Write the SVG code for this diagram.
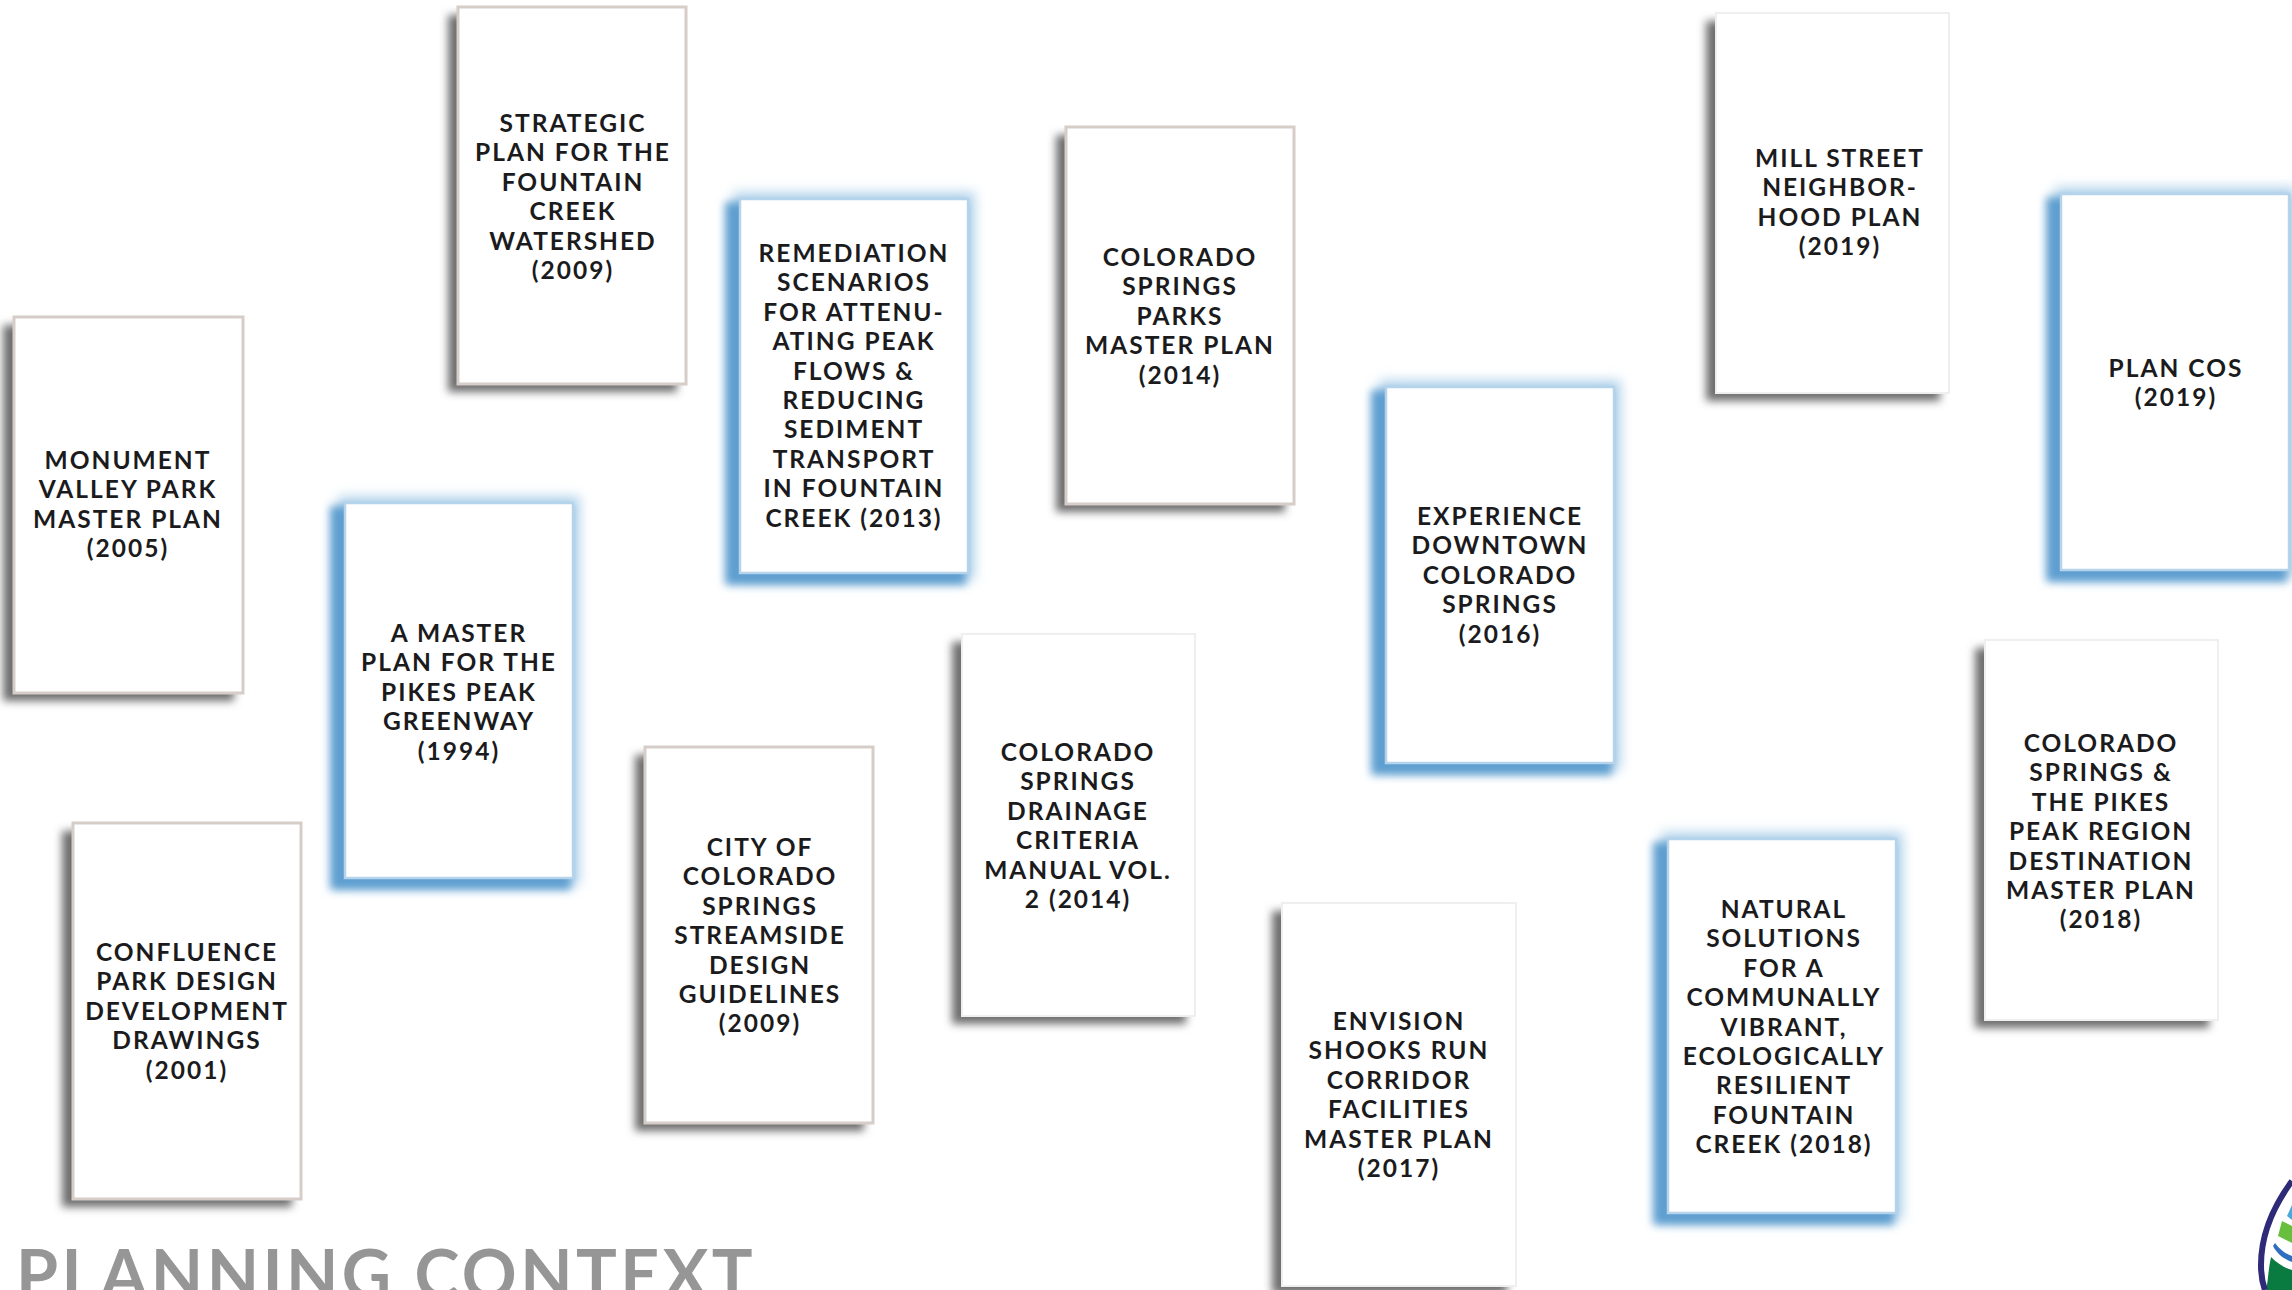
<svg xmlns="http://www.w3.org/2000/svg" width="2292" height="1290" viewBox="0 0 2292 1290">
<style>
text{font-family:Lato,"Open Sans","Liberation Sans",sans-serif}
.t{font-size:24.5px;font-weight:700;letter-spacing:2px;fill:#1b1b1d;text-anchor:middle}
.card{fill:#fff}
.n{stroke:#d6cdc8;stroke-width:3}
.f{stroke:#efefef;stroke-width:2}
.b{stroke:#b5d3ea;stroke-width:2.5}
.sn{fill:#6e6e6e;filter:url(#s)}
.sb{fill:#5f9fd0;filter:url(#s)}
.gb{fill:none;stroke:#b7d6ec;stroke-width:14;filter:url(#g)}
.title{font-size:68px;font-weight:700;letter-spacing:3.4px;fill:#969696}
</style>
<defs>
<filter id="s" x="-20%" y="-20%" width="140%" height="140%"><feGaussianBlur stdDeviation="4.5"/></filter>
<filter id="g" x="-20%" y="-20%" width="140%" height="140%"><feGaussianBlur stdDeviation="6"/></filter>
<clipPath id="drop"><path d="M2300 1180C2275 1215 2260 1245 2260 1270C2260 1280 2261 1285 2263 1290H2300Z"/></clipPath>
</defs>
<rect width="2292" height="1290" fill="#fff"/>

<g id="strategic-plan"><rect class="sn" x="448" y="15" width="229" height="377"/><rect class="card n" x="458" y="7" width="228" height="377"/>
<text class="t" y="132"><tspan x="573">STRATEGIC</tspan><tspan x="573" dy="29.4">PLAN FOR THE</tspan><tspan x="573" dy="29.4">FOUNTAIN</tspan><tspan x="573" dy="29.4">CREEK</tspan><tspan x="573" dy="29.4">WATERSHED</tspan><tspan x="573" dy="29.4">(2009)</tspan></text></g>

<g id="monument-valley"><rect class="sn" x="3" y="325" width="231" height="376"/><rect class="card n" x="14" y="317" width="229" height="376"/>
<text class="t" y="469"><tspan x="128">MONUMENT</tspan><tspan x="128" dy="29.4">VALLEY PARK</tspan><tspan x="128" dy="29.4">MASTER PLAN</tspan><tspan x="128" dy="29.4">(2005)</tspan></text></g>

<g id="pikes-peak-greenway"><rect class="gb" x="345" y="503" width="228" height="375"/><rect class="sb" x="330" y="506" width="241" height="384"/><rect class="card b" x="345" y="503" width="228" height="375"/>
<text class="t" y="642"><tspan x="459">A MASTER</tspan><tspan x="459" dy="29.4">PLAN FOR THE</tspan><tspan x="459" dy="29.4">PIKES PEAK</tspan><tspan x="459" dy="29.4">GREENWAY</tspan><tspan x="459" dy="29.4">(1994)</tspan></text></g>

<g id="confluence-park"><rect class="sn" x="62" y="831" width="230" height="376"/><rect class="card n" x="73" y="823" width="228" height="376"/>
<text class="t" y="961"><tspan x="187">CONFLUENCE</tspan><tspan x="187" dy="29.4">PARK DESIGN</tspan><tspan x="187" dy="29.4">DEVELOPMENT</tspan><tspan x="187" dy="29.4">DRAWINGS</tspan><tspan x="187" dy="29.4">(2001)</tspan></text></g>

<g id="remediation"><rect class="gb" x="740" y="199" width="228" height="374"/><rect class="sb" x="725" y="202" width="241" height="383"/><rect class="card b" x="740" y="199" width="228" height="374"/>
<text class="t" y="262"><tspan x="854">REMEDIATION</tspan><tspan x="854" dy="29.4">SCENARIOS</tspan><tspan x="854" dy="29.4">FOR ATTENU-</tspan><tspan x="854" dy="29.4">ATING PEAK</tspan><tspan x="854" dy="29.4">FLOWS &amp;</tspan><tspan x="854" dy="29.4">REDUCING</tspan><tspan x="854" dy="29.4">SEDIMENT</tspan><tspan x="854" dy="29.4">TRANSPORT</tspan><tspan x="854" dy="29.4">IN FOUNTAIN</tspan><tspan x="854" dy="29.4">CREEK (2013)</tspan></text></g>

<g id="parks-master-plan"><rect class="sn" x="1056" y="135" width="229" height="377"/><rect class="card n" x="1066" y="127" width="228" height="377"/>
<text class="t" y="266"><tspan x="1180">COLORADO</tspan><tspan x="1180" dy="29.4">SPRINGS</tspan><tspan x="1180" dy="29.4">PARKS</tspan><tspan x="1180" dy="29.4">MASTER PLAN</tspan><tspan x="1180" dy="29.4">(2014)</tspan></text></g>

<g id="streamside"><rect class="sn" x="635" y="755" width="229" height="376"/><rect class="card n" x="645" y="747" width="228" height="376"/>
<text class="t" y="856"><tspan x="760">CITY OF</tspan><tspan x="760" dy="29.4">COLORADO</tspan><tspan x="760" dy="29.4">SPRINGS</tspan><tspan x="760" dy="29.4">STREAMSIDE</tspan><tspan x="760" dy="29.4">DESIGN</tspan><tspan x="760" dy="29.4">GUIDELINES</tspan><tspan x="760" dy="29.4">(2009)</tspan></text></g>

<g id="drainage-criteria"><rect class="sn" x="952" y="642" width="234" height="382"/><rect class="card f" x="962" y="634" width="233" height="382"/>
<text class="t" y="761"><tspan x="1078">COLORADO</tspan><tspan x="1078" dy="29.4">SPRINGS</tspan><tspan x="1078" dy="29.4">DRAINAGE</tspan><tspan x="1078" dy="29.4">CRITERIA</tspan><tspan x="1078" dy="29.4">MANUAL VOL.</tspan><tspan x="1078" dy="29.4">2 (2014)</tspan></text></g>

<g id="experience-downtown"><rect class="gb" x="1386" y="387" width="228" height="376"/><rect class="sb" x="1371" y="390" width="241" height="385"/><rect class="card b" x="1386" y="387" width="228" height="376"/>
<text class="t" y="525"><tspan x="1500">EXPERIENCE</tspan><tspan x="1500" dy="29.4">DOWNTOWN</tspan><tspan x="1500" dy="29.4">COLORADO</tspan><tspan x="1500" dy="29.4">SPRINGS</tspan><tspan x="1500" dy="29.4">(2016)</tspan></text></g>

<g id="envision-shooks-run"><rect class="sn" x="1272" y="911" width="235" height="383"/><rect class="card f" x="1282" y="903" width="234" height="383"/>
<text class="t" y="1030"><tspan x="1399">ENVISION</tspan><tspan x="1399" dy="29.4">SHOOKS RUN</tspan><tspan x="1399" dy="29.4">CORRIDOR</tspan><tspan x="1399" dy="29.4">FACILITIES</tspan><tspan x="1399" dy="29.4">MASTER PLAN</tspan><tspan x="1399" dy="29.4">(2017)</tspan></text></g>

<g id="natural-solutions"><rect class="gb" x="1668" y="839" width="228" height="374"/><rect class="sb" x="1653" y="842" width="241" height="383"/><rect class="card b" x="1668" y="839" width="228" height="374"/>
<text class="t" y="918"><tspan x="1784">NATURAL</tspan><tspan x="1784" dy="29.4">SOLUTIONS</tspan><tspan x="1784" dy="29.4">FOR A</tspan><tspan x="1784" dy="29.4">COMMUNALLY</tspan><tspan x="1784" dy="29.4">VIBRANT,</tspan><tspan x="1784" dy="29.4">ECOLOGICALLY</tspan><tspan x="1784" dy="29.4">RESILIENT</tspan><tspan x="1784" dy="29.4">FOUNTAIN</tspan><tspan x="1784" dy="29.4">CREEK (2018)</tspan></text></g>

<g id="mill-street"><rect class="sn" x="1706" y="21" width="234" height="380"/><rect class="card f" x="1716" y="13" width="233" height="380"/>
<text class="t" y="167"><tspan x="1840">MILL STREET</tspan><tspan x="1840" dy="29.4">NEIGHBOR-</tspan><tspan x="1840" dy="29.4">HOOD PLAN</tspan><tspan x="1840" dy="29.4">(2019)</tspan></text></g>

<g id="plan-cos"><rect class="gb" x="2061" y="194" width="228" height="376"/><rect class="sb" x="2046" y="197" width="241" height="385"/><rect class="card b" x="2061" y="194" width="228" height="376"/>
<text class="t" y="377"><tspan x="2176">PLAN COS</tspan><tspan x="2176" dy="29.4">(2019)</tspan></text></g>

<g id="destination-master-plan"><rect class="sn" x="1975" y="648" width="234" height="380"/><rect class="card f" x="1985" y="640" width="233" height="380"/>
<text class="t" y="752"><tspan x="2101">COLORADO</tspan><tspan x="2101" dy="29.4">SPRINGS &amp;</tspan><tspan x="2101" dy="29.4">THE PIKES</tspan><tspan x="2101" dy="29.4">PEAK REGION</tspan><tspan x="2101" dy="29.4">DESTINATION</tspan><tspan x="2101" dy="29.4">MASTER PLAN</tspan><tspan x="2101" dy="29.4">(2018)</tspan></text></g>

<text class="title" x="16" y="1299">PLANNING CONTEXT</text>

<g id="logo">
<g clip-path="url(#drop)">
<rect x="2255" y="1175" width="40" height="120" fill="#fff"/>
<path d="M2292 1205L2287 1216L2292 1220Z" fill="#4aa8dd"/>
<path d="M2282 1221L2292 1226V1243L2278 1236Z" fill="#68bf3d"/>
<path d="M2275 1243C2280 1250 2286 1254 2292 1256V1262C2284 1259 2277 1254 2273 1246Z" fill="#2f6fc0"/>
<path d="M2271 1257C2278 1264 2285 1268 2292 1270V1295H2265C2268 1285 2268 1270 2271 1257Z" fill="#0a7b40"/>
</g>
<path d="M2292 1181C2272 1208 2261 1237 2261 1265C2261 1274 2262 1282 2265 1290" fill="none" stroke="#2e2a78" stroke-width="6"/>
</g>
</svg>
